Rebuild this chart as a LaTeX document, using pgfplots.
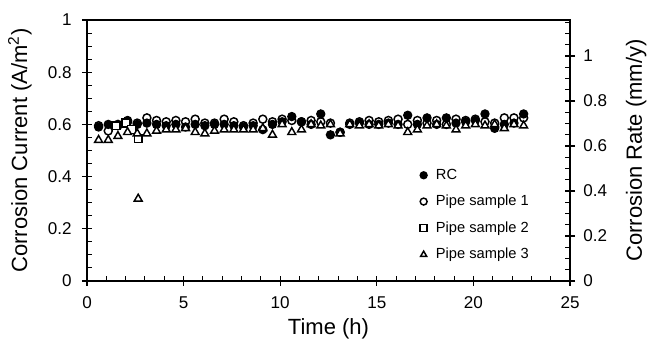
\documentclass[border=0pt]{standalone}
\usepackage{fontspec}
\setmainfont{Liberation Sans}
\usepackage{pgfplots}
\usepackage{pgfplotstable}
\pgfplotsset{compat=1.18}

\pgfplotstableread{
t v
0.6 0.590
1.1 0.600
1.6 0.595
2.1 0.615
2.6 0.600
3.1 0.605
3.6 0.600
4.1 0.595
4.6 0.600
5.1 0.590
5.6 0.600
6.1 0.595
6.6 0.600
7.1 0.600
7.6 0.595
8.1 0.590
8.6 0.595
9.1 0.580
9.6 0.600
10.1 0.610
10.6 0.630
11.1 0.610
11.6 0.600
12.1 0.640
12.6 0.560
13.1 0.570
13.6 0.600
14.1 0.605
14.6 0.600
15.1 0.600
15.6 0.605
16.1 0.600
16.6 0.635
17.1 0.600
17.6 0.625
18.1 0.600
18.6 0.625
19.1 0.605
19.6 0.610
20.1 0.615
20.6 0.640
21.1 0.585
21.6 0.600
22.1 0.605
22.6 0.640
}\rc

\pgfplotstableread{
t v
0.6 0.595
1.1 0.575
1.6 0.600
2.1 0.610
2.6 0.605
3.1 0.625
3.6 0.615
4.1 0.610
4.6 0.615
5.1 0.610
5.6 0.620
6.1 0.605
6.6 0.605
7.1 0.620
7.6 0.610
8.1 0.595
8.6 0.605
9.1 0.620
9.6 0.610
10.1 0.620
10.6 0.615
11.1 0.610
11.6 0.615
12.1 0.610
12.6 0.605
13.1 0.570
13.6 0.605
14.1 0.610
14.6 0.615
15.1 0.610
15.6 0.615
16.1 0.620
16.6 0.600
17.1 0.615
17.6 0.605
18.1 0.615
18.6 0.600
19.1 0.620
19.6 0.615
20.1 0.620
20.6 0.610
21.1 0.605
21.6 0.625
22.1 0.625
22.6 0.625
}\pipeone

\pgfplotstableread{
t v
1.5 0.595
2.0 0.605
2.3 0.580
2.65 0.545
}\pipetwo

\pgfplotstableread{
t v
0.6 0.540
1.1 0.540
1.6 0.555
2.1 0.570
2.6 0.565
2.65 0.315
3.1 0.565
3.6 0.575
4.1 0.580
4.6 0.580
5.1 0.585
5.6 0.570
6.1 0.565
6.6 0.575
7.1 0.580
7.6 0.580
8.1 0.580
8.6 0.580
9.1 0.585
9.6 0.560
10.1 0.600
10.6 0.570
11.1 0.580
11.6 0.600
12.1 0.595
12.6 0.600
13.1 0.565
13.6 0.600
14.1 0.595
14.6 0.600
15.1 0.595
15.6 0.600
16.1 0.595
16.6 0.570
17.1 0.580
17.6 0.595
18.1 0.600
18.6 0.595
19.1 0.580
19.6 0.595
20.1 0.600
20.6 0.595
21.1 0.600
21.6 0.585
22.1 0.600
22.6 0.595
}\pipethree

\pgfplotsset{
  base/.style={
    scale only axis, width=362.25pt, height=195.75pt,
    xmin=0, xmax=25,
    tick style={black, line width=0.8pt},
    major tick length=3.75pt, minor tick length=3.75pt,
    ticklabel style={font=\fontsize{12.8}{15}\selectfont},
    /pgf/number format/assume math mode=true,
  },
}

\begin{document}
\begin{tikzpicture}
% outside stubs of major ticks (left and bottom)
\begin{axis}[base, ymin=0, ymax=1,
  axis line style={draw=none},
  xtick={0,5,10,15,20,25}, ytick={0,0.2,0.4,0.6,0.8,1},
  xticklabels={}, yticklabels={},
  xtick pos=left, ytick pos=left, tick align=outside]
\addplot[draw=none] coordinates {(0,0)};
\end{axis}
% outside stubs of major ticks (right)
\begin{axis}[base, ymin=0, ymax=1.16,
  axis line style={draw=none},
  xtick=\empty, ytick={0,0.2,0.4,0.6,0.8,1},
  yticklabels={},
  ytick pos=right, tick align=outside]
\addplot[draw=none] coordinates {(0,0)};
\end{axis}
% right axis
\begin{axis}[base, ymin=0, ymax=1.16,
  axis line style={draw=none},
  xtick=\empty, ytick={0,0.2,0.4,0.6,0.8,1},
  minor ytick={0.05,0.1,0.15,0.25,0.3,0.35,0.45,0.5,0.55,0.65,0.7,0.75,0.85,0.9,0.95,1.05,1.1,1.15},
  ytick pos=right, tick align=inside,
  yticklabel style={xshift=6.5pt},
  ylabel={Corrosion Rate (mm/y)},
  ylabel style={font=\fontsize{16.5}{19}\selectfont, at={(axis description cs:1.137,0.5)}, anchor=center, rotate=0},
  ]
\addplot[draw=none] coordinates {(0,0)};
\end{axis}
% main axis
\begin{axis}[base, ymin=0, ymax=1,
  axis line style={line width=0.9pt},
  xtick={0,5,10,15,20,25}, minor x tick num=4,
  ytick={0,0.2,0.4,0.6,0.8,1}, minor y tick num=3,
  xtick pos=left, ytick pos=left, tick align=inside,
  yticklabel style={xshift=-8pt},
  xticklabel style={yshift=-8.5pt},
  xlabel={Time (h)},
  ylabel={Corrosion Current (A/m\textsuperscript{2})},
  xlabel style={font=\fontsize{16.5}{19}\selectfont, at={(axis description cs:0.5,-0.185)}, anchor=center},
  ylabel style={font=\fontsize{16.5}{19}\selectfont, at={(axis description cs:-0.139,0.5)}, anchor=center},
  legend cell align=left,
  legend style={draw=none, fill=none, at={(axis description cs:0.681,0.45)}, anchor=north west,
    font=\fontsize{11}{13}\selectfont, row sep=6.4pt},
  legend image code/.code={\draw[mark size=2.6pt,#1] plot coordinates {(0.25cm,0cm)}; \path (0.25cm+7pt,0pt);},
  ]
\addplot[only marks, mark=*, mark size=3.0pt, black, mark options={fill=black, line width=1pt}] table {\rc};
\addlegendentry{RC}
\addplot[only marks, mark=o, mark size=3.0pt, black, mark options={fill=white, line width=1.1pt}] table {\pipeone};
\addlegendentry{Pipe sample 1}
\addplot[only marks, mark=square*, mark size=2.9pt, black, mark options={fill=white, line width=1.1pt}] table {\pipetwo};
\addlegendentry{Pipe sample 2}
\addplot[only marks, mark=triangle*, mark size=3.4pt, black, mark options={fill=white, line width=1.1pt}] table {\pipethree};
\addlegendentry{Pipe sample 3}
\end{axis}
\pgfresetboundingbox
\path (-65.25pt,-45.75pt) rectangle (421.5pt,210.75pt);
\end{tikzpicture}
\end{document}
